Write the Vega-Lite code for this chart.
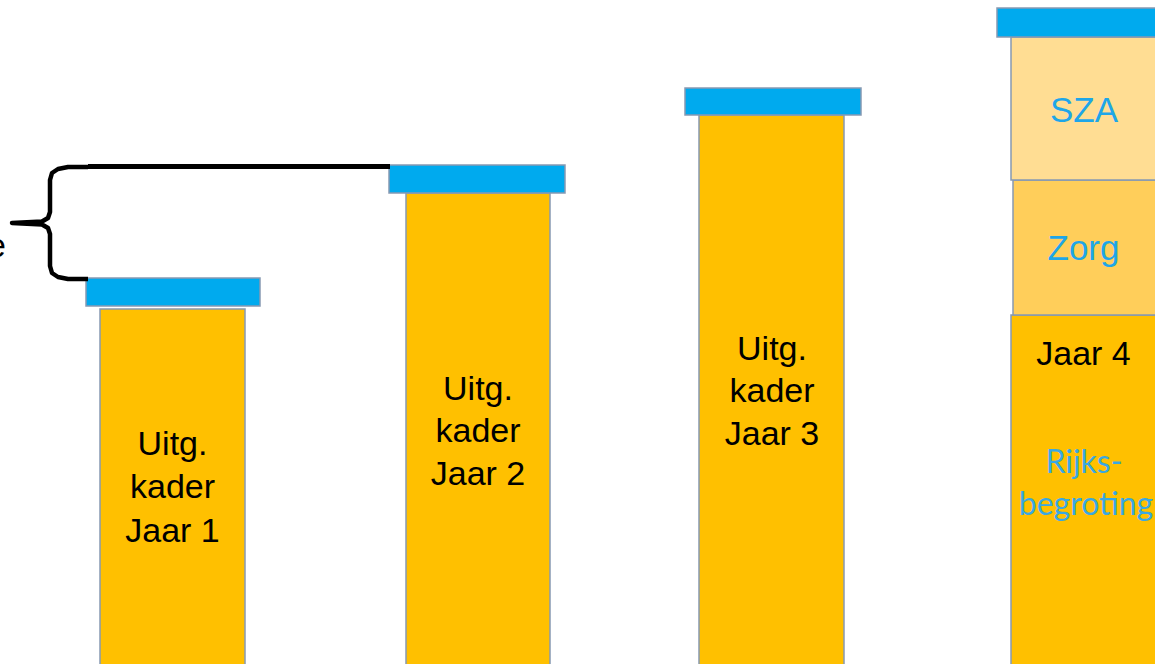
{
  "$schema": "https://vega.github.io/schema/vega-lite/v6.json",
  "width": 1155,
  "height": 664,
  "autosize": {"type": "fit", "contains": "padding"},
  "padding": 0,
  "background": "white",
  "config": {"view": {"stroke": null}},
  "datasets": {
    "blocks": [
      {"bar": "Jaar 1", "part": "kader", "x0": 100, "x1": 245, "y0": -10, "y1": 355},
      {"bar": "Jaar 1", "part": "cap", "x0": 86, "x1": 260, "y0": 358, "y1": 386},
      {"bar": "Jaar 2", "part": "kader", "x0": 406, "x1": 550, "y0": -10, "y1": 471},
      {"bar": "Jaar 2", "part": "cap", "x0": 389, "x1": 565, "y0": 471, "y1": 499},
      {"bar": "Jaar 3", "part": "kader", "x0": 699, "x1": 844, "y0": -10, "y1": 549},
      {"bar": "Jaar 3", "part": "cap", "x0": 685, "x1": 861, "y0": 549, "y1": 576},
      {"bar": "Jaar 4", "part": "kader", "x0": 1011, "x1": 1175, "y0": -10, "y1": 349},
      {"bar": "Jaar 4", "part": "Zorg", "x0": 1013, "x1": 1175, "y0": 349, "y1": 484},
      {"bar": "Jaar 4", "part": "SZA", "x0": 1011, "x1": 1175, "y0": 484, "y1": 627},
      {"bar": "Jaar 4", "part": "cap", "x0": 997, "x1": 1175, "y0": 627, "y1": 656}
    ],
    "labels": [
      {"style": "black", "x": 172.5, "y": 209, "text": "Uitg."},
      {"style": "black", "x": 172.5, "y": 166, "text": "kader"},
      {"style": "black", "x": 172.5, "y": 122, "text": "Jaar 1"},
      {"style": "black", "x": 478, "y": 264, "text": "Uitg."},
      {"style": "black", "x": 478, "y": 222, "text": "kader"},
      {"style": "black", "x": 478, "y": 179, "text": "Jaar 2"},
      {"style": "black", "x": 772, "y": 304, "text": "Uitg."},
      {"style": "black", "x": 772, "y": 262, "text": "kader"},
      {"style": "black", "x": 772, "y": 219, "text": "Jaar 3"},
      {"style": "black", "x": 1083.5, "y": 299, "text": "Jaar 4"},
      {"style": "blue", "x": 1084, "y": 542, "text": "SZA"},
      {"style": "blue", "x": 1083.5, "y": 404, "text": "Zorg"},
      {"style": "blue2", "x": 1084, "y": 191, "text": "Rijks-"},
      {"style": "blue2", "x": 1086, "y": 149, "text": "begroting"}
    ],
    "brace": [
      {"i": 1, "x": 88, "y": 497},
      {"i": 2, "x": 68, "y": 497},
      {"i": 3, "x": 58, "y": 495},
      {"i": 4, "x": 52, "y": 491},
      {"i": 5, "x": 50, "y": 484},
      {"i": 6, "x": 50, "y": 452},
      {"i": 7, "x": 48, "y": 446},
      {"i": 8, "x": 42, "y": 442.5},
      {"i": 9, "x": 12, "y": 441},
      {"i": 10, "x": 42, "y": 439.5},
      {"i": 11, "x": 48, "y": 436},
      {"i": 12, "x": 50, "y": 430},
      {"i": 13, "x": 50, "y": 398},
      {"i": 14, "x": 52, "y": 391},
      {"i": 15, "x": 58, "y": 387},
      {"i": 16, "x": 68, "y": 385},
      {"i": 17, "x": 88, "y": 385}
    ],
    "topline": [
      {"i": 1, "x": 88, "y": 497.5},
      {"i": 2, "x": 390, "y": 497.5}
    ],
    "side": [
      {"x": 6, "y": 407, "text": "Groeiruimte"}
    ]
  },
  "layer": [
    {
      "data": {"name": "blocks"},
      "mark": {"type": "rect", "clip": true, "stroke": "#8799B2", "strokeWidth": 1.5},
      "encoding": {
        "x": {"field": "x0", "type": "quantitative", "scale": {"domain": [0, 1155], "nice": false, "zero": false}, "axis": null},
        "x2": {"field": "x1"},
        "y": {"field": "y0", "type": "quantitative", "scale": {"domain": [0, 664], "nice": false, "zero": false}, "axis": null},
        "y2": {"field": "y1"},
        "color": {
          "field": "part",
          "type": "nominal",
          "scale": {"domain": ["kader", "cap", "Zorg", "SZA"], "range": ["#FFC000", "#00AAEE", "#FFCE5A", "#FFDD93"]},
          "legend": null
        }
      }
    },
    {
      "data": {"name": "topline"},
      "mark": {"type": "line", "clip": true, "color": "#000000", "strokeWidth": 5, "strokeCap": "butt"},
      "encoding": {
        "x": {"field": "x", "type": "quantitative"},
        "y": {"field": "y", "type": "quantitative"},
        "order": {"field": "i"}
      }
    },
    {
      "data": {"name": "brace"},
      "mark": {"type": "line", "clip": true, "color": "#000000", "strokeWidth": 4.5, "strokeJoin": "round", "strokeCap": "butt"},
      "encoding": {
        "x": {"field": "x", "type": "quantitative"},
        "y": {"field": "y", "type": "quantitative"},
        "order": {"field": "i"}
      }
    },
    {
      "data": {"name": "side"},
      "mark": {"type": "text", "clip": true, "align": "right", "baseline": "alphabetic", "font": "Liberation Sans", "fontSize": 34, "color": "#000000"},
      "encoding": {
        "x": {"field": "x", "type": "quantitative"},
        "y": {"field": "y", "type": "quantitative"},
        "text": {"field": "text"}
      }
    },
    {
      "data": {"name": "labels"},
      "transform": [{"filter": "datum.style === 'black'"}],
      "mark": {"type": "text", "clip": true, "align": "center", "baseline": "alphabetic", "font": "Liberation Sans", "fontSize": 34, "color": "#000000"},
      "encoding": {
        "x": {"field": "x", "type": "quantitative"},
        "y": {"field": "y", "type": "quantitative"},
        "text": {"field": "text"}
      }
    },
    {
      "data": {"name": "labels"},
      "transform": [{"filter": "datum.style === 'blue'"}],
      "mark": {"type": "text", "clip": true, "align": "center", "baseline": "alphabetic", "font": "Liberation Sans", "fontSize": 35, "color": "#1EA6E8"},
      "encoding": {
        "x": {"field": "x", "type": "quantitative"},
        "y": {"field": "y", "type": "quantitative"},
        "text": {"field": "text"}
      }
    },
    {
      "data": {"name": "labels"},
      "transform": [{"filter": "datum.style === 'blue2'"}],
      "mark": {"type": "text", "clip": true, "align": "center", "baseline": "alphabetic", "font": "Lato", "fontSize": 32, "color": "#3AA8E2"},
      "encoding": {
        "x": {"field": "x", "type": "quantitative"},
        "y": {"field": "y", "type": "quantitative"},
        "text": {"field": "text"}
      }
    }
  ]
}
